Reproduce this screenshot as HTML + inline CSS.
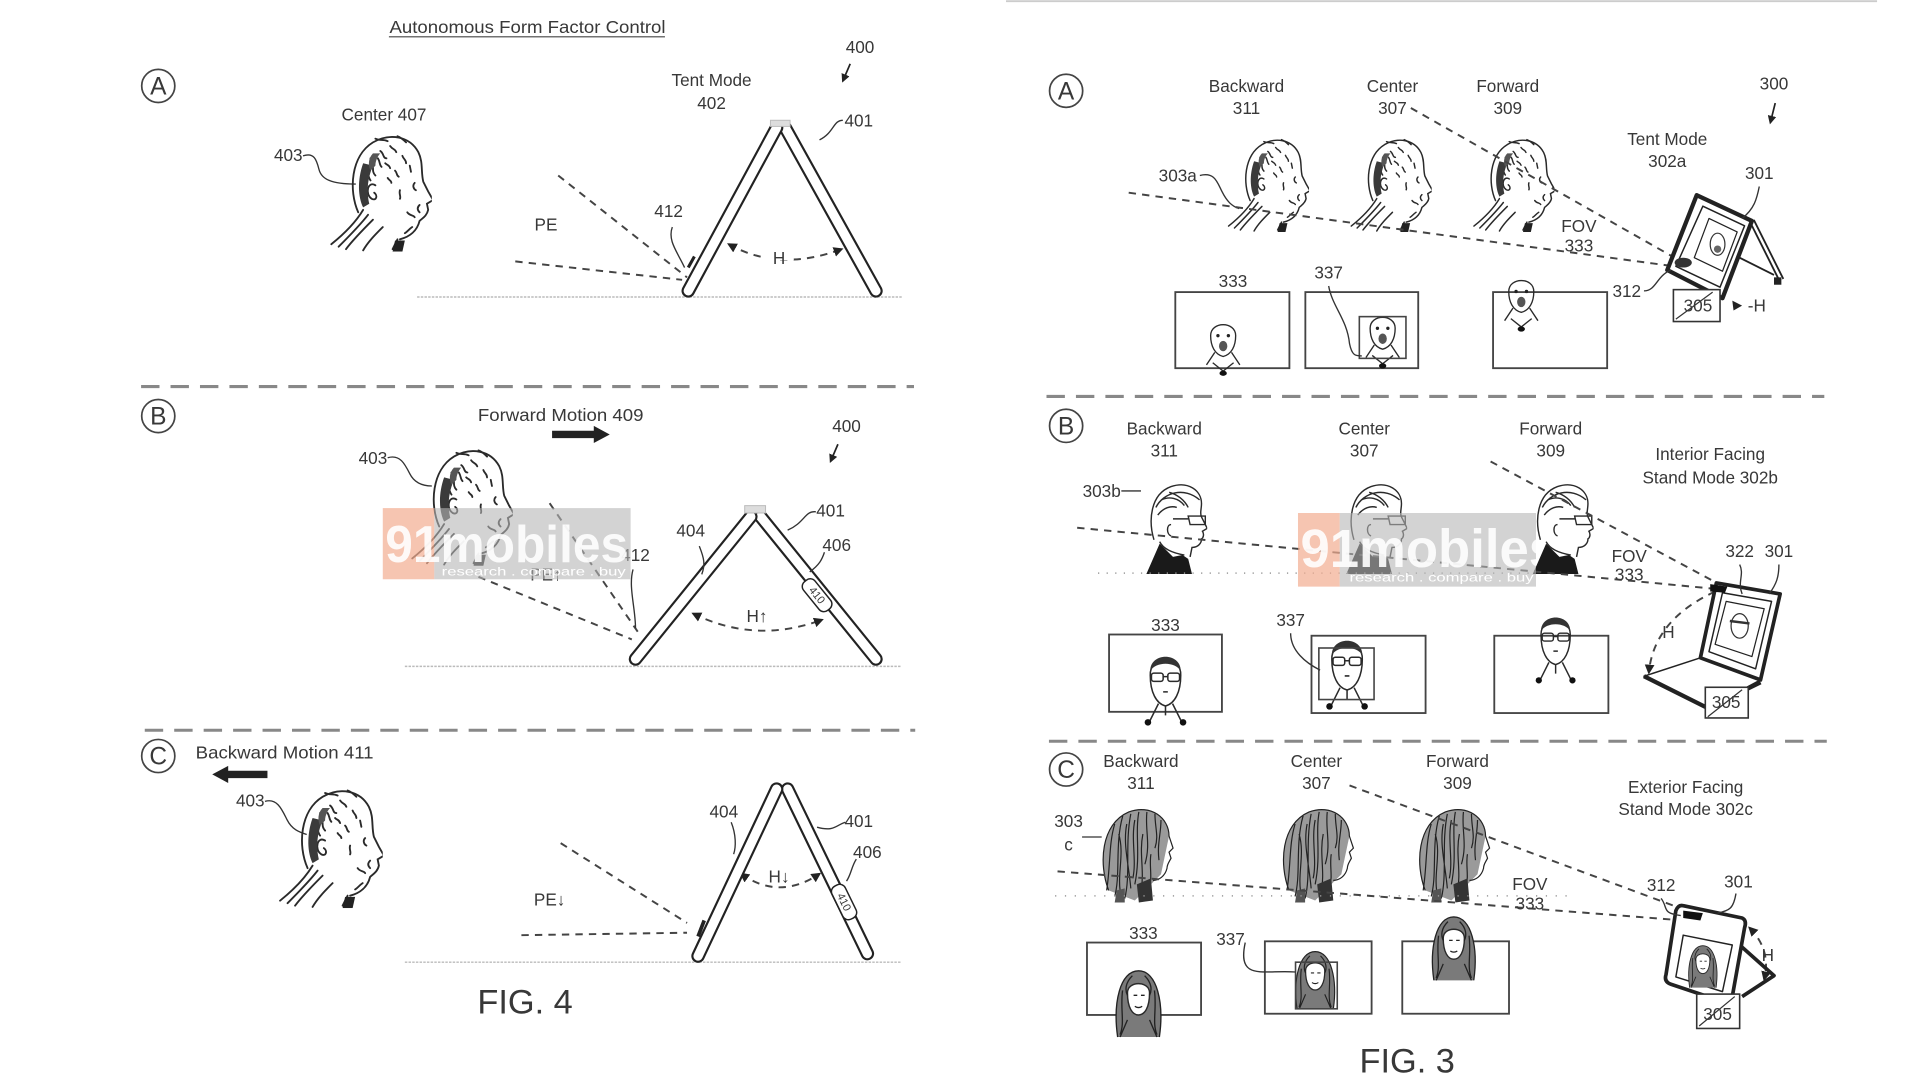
<!DOCTYPE html>
<html><head><meta charset="utf-8"><style>
html,body{margin:0;padding:0;background:#fff;overflow:hidden}
svg{display:block}
text{font-family:"Liberation Sans Narrow","Liberation Sans",Arial,sans-serif;fill:#383838;font-size:14px;text-anchor:middle}
</style></head><body>
<svg width="1920" height="1080" viewBox="0 0 1565 880" preserveAspectRatio="none" xmlns="http://www.w3.org/2000/svg">
<defs>
<marker id="ah" viewBox="0 0 10 10" refX="8" refY="5" markerWidth="5" markerHeight="5" orient="auto-start-reverse"><path d="M0,0 L10,5 L0,10 Z" fill="#222"/></marker>
<symbol id="man" viewBox="0 0 90 100">
<g fill="none" stroke="#2a2a2a" stroke-width="1.5" stroke-linecap="round">
<path d="M30,68 C22,50 24,22 42,11 C56,3 72,6 79,19 C83,27 81,35 83,43 L87,51 L91,58 L86,61 L87,66 C86,71 82,73 80,75 C78,83 72,88 64,90"/>
<path d="M34,66 C28,76 18,86 8,94"/>
<path d="M38,70 C31,79 22,88 14,96"/>
<path d="M42,74 C34,82 26,90 20,98"/>
<path d="M50,80 C44,86 38,92 34,99"/>
<path d="M62,90 L58,98"/>
<path d="M44,46 C38,42 35,53 41,57 C45,59 46,54 43,52"/>
<path d="M36,30 c3,4 1,8 4,12 M40,24 c4,6 0,10 4,14 M34,40 c2,4 0,8 3,10 M48,18 c3,2 2,6 5,6 M56,14 c2,3 4,2 5,5 M52,28 c2,2 3,1 4,4 M66,22 c1,3 3,3 3,6 M72,30 l1,5 M76,44 c-2,2 -1,5 1,6 M80,62 c-2,2 -2,4 0,6 M60,34 c2,2 1,4 3,5 M46,24 c2,3 1,5 3,7 M54,40 c1,2 3,2 3,4 M64,50 c-1,3 1,5 0,7 M70,68 c2,3 5,2 6,4 M74,80 c-3,2 -4,4 -6,5 M44,8 c4,2 6,0 10,2 M62,6 c3,1 5,3 7,5"/>
</g>
<path d="M34,28 C29,42 30,56 34,64 L39,61 C37,52 37,42 42,30 Z" fill="#3a3a3a"/>
<path d="M42,20 C38,24 38,30 40,34 L44,30 C44,26 46,22 48,20 Z" fill="#555"/>
<path d="M60,91 L68,91 L66,100 L58,100 Z" fill="#222"/>
</symbol>
<symbol id="gman" viewBox="0 0 80 100">
<g fill="none" stroke="#2a2a2a" stroke-width="1.5">
<path d="M24,64 C18,44 20,16 42,8 C60,2 74,12 74,26 C74,32 72,36 74,40 L80,52 L75,55 C77,58 76,62 74,63 C74,68 70,72 64,72 L62,82"/>
<path d="M26,30 C34,14 56,8 72,22 M32,22 C40,18 50,20 56,28 M40,14 C48,16 56,22 60,30 M28,38 C34,30 42,28 48,30"/>
<path d="M60,39 L78,39 L78,48 L62,48 Z M44,42 L60,42"/>
<path d="M42,48 c-5,0 -5,10 0,12"/>
<path d="M30,66 C34,74 44,78 56,80"/>
</g>
<path d="M16,100 L30,68 L44,82 L54,80 L60,84 L64,100 Z" fill="#1a1a1a"/>
</symbol>
<symbol id="wman" viewBox="0 0 80 100">
<path d="M14,86 C4,60 6,20 34,8 C56,0 74,14 74,32 L66,70 L40,96 Z" fill="#9a9a9a"/>
<g fill="none" stroke="#222" stroke-width="1.2">
<path d="M14,86 C4,60 6,20 34,8 C56,0 74,14 74,32 L78,44 L74,48 L76,54 C74,58 72,60 72,64 C70,72 64,76 58,76"/>
<path d="M20,20 C14,40 16,60 12,86 M28,12 C20,40 26,70 20,92 M36,10 C30,40 36,70 30,94 M44,8 C40,30 46,50 40,80 M52,8 C50,26 56,40 50,60 M60,10 C60,24 64,32 60,44 M24,30 C30,50 22,70 26,90 M48,30 C44,50 50,66 46,88 M56,50 C54,62 58,72 54,84 M66,16 C66,30 62,40 64,56 M32,20 C28,40 34,60 36,84 M40,16 C36,36 42,56 38,74"/>
</g>
<path d="M42,80 L56,74 L58,96 L44,98 Z" fill="#333"/>
<path d="M22,86 L30,84 L30,98 L20,98 Z" fill="#555"/>
</symbol>
<symbol id="fface" viewBox="0 0 40 60">
<g fill="none" stroke="#2a2a2a" stroke-width="1.3">
<path d="M8,20 C8,6 32,6 32,20 C32,30 28,38 20,40 C12,38 8,30 8,20 Z"/>
<path d="M12,36 L4,48 M28,36 L36,48 M10,46 L20,54 L30,46"/>
</g>
<circle cx="15" cy="20" r="1.6" fill="#222"/><circle cx="25" cy="20" r="1.6" fill="#222"/>
<ellipse cx="20" cy="30" rx="4" ry="5" fill="#555"/>
<ellipse cx="20" cy="56" rx="3.5" ry="2.5" fill="#111"/>
</symbol>
<symbol id="gface" viewBox="0 0 44 70">
<g fill="none" stroke="#2a2a2a" stroke-width="1.3">
<path d="M9,26 C8,8 36,8 35,26 C35,40 30,50 22,52 C14,50 9,40 9,26 Z"/>
<rect x="10" y="24" width="10" height="7" rx="2"/><rect x="24" y="24" width="10" height="7" rx="2"/>
<path d="M20,27 L24,27 M20,40 L24,40 M16,50 L8,66 M28,50 L36,66 M22,52 L22,60"/>
</g>
<path d="M9,22 C9,6 35,6 35,22 C30,14 14,14 9,22 Z" fill="#333"/>
<circle cx="7" cy="66" r="2.8" fill="#111"/><circle cx="37" cy="66" r="2.8" fill="#111"/>
</symbol>
<symbol id="wface" viewBox="0 0 46 60">
<path d="M6,58 C2,30 8,4 23,4 C38,4 44,30 40,58 Z" fill="#7a7a7a"/>
<path d="M14,22 C14,12 32,12 32,22 C32,34 28,40 23,40 C18,40 14,34 14,22 Z" fill="#fff" stroke="#2a2a2a" stroke-width="1.2"/>
<g fill="none" stroke="#222" stroke-width="1.1">
<path d="M6,58 C2,30 8,4 23,4 C38,4 44,30 40,58 M10,20 C8,36 12,46 8,56 M36,20 C38,36 34,46 38,56 M18,8 C12,14 12,20 14,24 M28,8 C34,14 34,20 32,24 M14,44 L8,58 M32,44 L38,58"/>
<path d="M19,24 h3 M25,24 h3 M20,33 q3,2 6,0"/>
</g>
</symbol>
<clipPath id="wm2c"><rect x="1058" y="418" width="194" height="60"/></clipPath>
</defs>

<rect x="0" y="0" width="1565" height="880" fill="#fff"/>
<line x1="820" y1="1" x2="1530" y2="1" stroke="#ccc" stroke-width="1.5"/>

<!-- ============ FIG 4 (left) ============ -->
<text x="430" y="27" textLength="225" lengthAdjust="spacingAndGlyphs">Autonomous Form Factor Control</text>
<line x1="317" y1="30" x2="542" y2="30" stroke="#444" stroke-width="1"/>

<!-- Panel A -->
<circle cx="129" cy="70" r="13.5" fill="none" stroke="#444" stroke-width="1.4"/>
<text x="129" y="77" style="font-size:20px">A</text>
<text x="701" y="43">400</text>
<path d="M693,52 L687,66" stroke="#222" stroke-width="1.4" marker-end="url(#ah)"/>
<text x="580" y="70">Tent Mode</text><text x="580" y="89">402</text>
<text x="313" y="98">Center 407</text>
<text x="235" y="131">403</text>
<path d="M247,127 C256,124 258,130 260,138 C262,146 270,150 290,150" fill="none" stroke="#333" stroke-width="1.1"/>
<use href="#man" x="262" y="105" width="90" height="100"/>
<text x="700" y="103">401</text>
<path d="M687,98 C679,98 680,108 668,114" fill="none" stroke="#333" stroke-width="1.1"/>
<text x="545" y="177">412</text>
<path d="M548,185 C544,196 552,205 558,218" fill="none" stroke="#333" stroke-width="1.1"/>
<text x="445" y="188">PE</text>
<g stroke="#444" stroke-width="1.6" stroke-dasharray="6,5" fill="none">
<line x1="455" y1="143" x2="560" y2="226"/>
<line x1="420" y1="213" x2="556" y2="228"/>
<path d="M594,199 Q635,222 686,203" marker-start="url(#ah)" marker-end="url(#ah)"/>
</g>
<rect x="623" y="192" width="24" height="20" fill="#fff"/>
<text x="635" y="215">H</text>
<line x1="340" y1="242" x2="735" y2="242" stroke="#bbb" stroke-width="1.2" stroke-dasharray="2,1"/>
<g stroke-linecap="round">
<line x1="640" y1="104" x2="714" y2="237" stroke="#222" stroke-width="11"/>
<line x1="640" y1="104" x2="714" y2="237" stroke="#fff" stroke-width="7.5"/>
<line x1="633" y1="104" x2="561" y2="237" stroke="#222" stroke-width="11"/>
<line x1="633" y1="104" x2="561" y2="237" stroke="#fff" stroke-width="7.5"/>
</g>
<rect x="628" y="98" width="16" height="5" fill="#ddd" stroke="#bbb" stroke-width="0.8"/>
<line x1="561" y1="218" x2="566" y2="209" stroke="#222" stroke-width="2.5"/>

<line x1="115" y1="315" x2="745" y2="315" stroke="#888" stroke-width="2.5" stroke-dasharray="15,9"/>

<!-- Panel B -->
<circle cx="129" cy="339" r="13.5" fill="none" stroke="#444" stroke-width="1.4"/>
<text x="129" y="346" style="font-size:20px">B</text>
<text x="457" y="343" textLength="135" lengthAdjust="spacingAndGlyphs">Forward Motion 409</text>
<path d="M450,351 L484,351 L484,347 L497,354 L484,361 L484,357 L450,357 Z" fill="#222"/>
<text x="690" y="352">400</text>
<path d="M683,362 L677,376" stroke="#222" stroke-width="1.4" marker-end="url(#ah)"/>
<text x="304" y="378">403</text>
<path d="M316,373 C326,370 330,378 334,386 C338,394 345,396 352,396" fill="none" stroke="#333" stroke-width="1.1"/>
<use href="#man" x="328" y="360" width="90" height="102"/>
<g stroke="#444" stroke-width="1.6" stroke-dasharray="6,5" fill="none">
<line x1="448" y1="410" x2="520" y2="515"/>
<line x1="390" y1="470" x2="515" y2="521"/>
<path d="M565,500 Q616,525 670,505" marker-start="url(#ah)" marker-end="url(#ah)"/>
</g>
<rect x="604" y="492" width="26" height="18" fill="#fff"/>
<text x="617" y="507">H↑</text>
<text x="445" y="473">PE↑</text>
<line x1="330" y1="543" x2="735" y2="543" stroke="#bbb" stroke-width="1.2" stroke-dasharray="2,1"/>
<g stroke-linecap="round">
<line x1="620" y1="421" x2="714" y2="537" stroke="#222" stroke-width="11"/>
<line x1="620" y1="421" x2="714" y2="537" stroke="#fff" stroke-width="7.5"/>
<line x1="612" y1="421" x2="518" y2="537" stroke="#222" stroke-width="11"/>
<line x1="612" y1="421" x2="518" y2="537" stroke="#fff" stroke-width="7.5"/>
</g>
<rect x="607" y="412" width="17" height="6" fill="#ddd" stroke="#bbb" stroke-width="0.8"/>
<g transform="translate(666,485) rotate(-39)">
<rect x="-6" y="-15" width="12" height="30" rx="5" fill="#fff" stroke="#222" stroke-width="1.2"/>
<text x="0" y="3" transform="rotate(90)" style="font-size:9px">410</text>
</g>
<text x="563" y="437">404</text>
<path d="M570,445 C574,455 575,460 572,468" fill="none" stroke="#333" stroke-width="1.1"/>
<text x="677" y="421">401</text>
<path d="M665,417 C656,416 656,426 642,432" fill="none" stroke="#333" stroke-width="1.1"/>
<text x="682" y="449">406</text>
<path d="M672,450 C670,456 668,460 660,466" fill="none" stroke="#333" stroke-width="1.1"/>
<text x="518" y="457">412</text>
<path d="M516,464 C512,478 518,495 518,512" fill="none" stroke="#333" stroke-width="1.1"/>
<!-- watermark 1 -->
<rect x="312" y="414" width="42" height="58" fill="#f2ad90" opacity="0.7"/>
<rect x="354" y="414" width="160" height="58" fill="#b5b5b5" opacity="0.6"/>
<text x="314" y="458" textLength="198" lengthAdjust="spacingAndGlyphs" style="font-size:42px;font-weight:bold;fill:#fff;opacity:0.9;text-anchor:start">91mobiles</text>
<text x="360" y="469" textLength="150" lengthAdjust="spacingAndGlyphs" style="font-size:10px;fill:#fff;text-anchor:start">research . compare . buy</text>

<line x1="118" y1="595" x2="746" y2="595" stroke="#888" stroke-width="2.5" stroke-dasharray="15,9"/>

<!-- Panel C -->
<circle cx="129" cy="616" r="13.5" fill="none" stroke="#444" stroke-width="1.4"/>
<text x="129" y="623" style="font-size:20px">C</text>
<text x="232" y="618" textLength="145" lengthAdjust="spacingAndGlyphs">Backward Motion 411</text>
<path d="M218,628 L186,628 L186,624 L173,631 L186,638 L186,634 L218,634 Z" fill="#222"/>
<text x="204" y="657">403</text>
<path d="M216,653 C226,650 230,660 234,668 C238,676 244,678 250,680" fill="none" stroke="#333" stroke-width="1.1"/>
<use href="#man" x="220" y="638" width="92" height="102"/>
<g stroke="#444" stroke-width="1.6" stroke-dasharray="6,5" fill="none">
<line x1="457" y1="687" x2="560" y2="752"/>
<line x1="425" y1="762" x2="560" y2="760"/>
<path d="M604,712 Q635,734 668,712" marker-start="url(#ah)" marker-end="url(#ah)"/>
</g>
<text x="448" y="738">PE↓</text>
<text x="635" y="719">H↓</text>
<line x1="330" y1="784" x2="735" y2="784" stroke="#bbb" stroke-width="1.2" stroke-dasharray="2,1"/>
<g stroke-linecap="round">
<line x1="642" y1="643" x2="707" y2="777" stroke="#222" stroke-width="11"/>
<line x1="642" y1="643" x2="707" y2="777" stroke="#fff" stroke-width="7.5"/>
<line x1="633" y1="643" x2="569" y2="779" stroke="#222" stroke-width="11"/>
<line x1="633" y1="643" x2="569" y2="779" stroke="#fff" stroke-width="7.5"/>
</g>
<line x1="569" y1="763" x2="574" y2="750" stroke="#222" stroke-width="3"/>
<g transform="translate(688,735) rotate(-26)">
<rect x="-6" y="-15" width="12" height="30" rx="5" fill="#fff" stroke="#222" stroke-width="1.2"/>
<text x="0" y="3" transform="rotate(90)" style="font-size:9px">410</text>
</g>
<text x="590" y="666">404</text>
<path d="M596,670 C600,680 600,690 598,696" fill="none" stroke="#333" stroke-width="1.1"/>
<text x="700" y="674">401</text>
<path d="M689,670 C682,672 680,678 666,674" fill="none" stroke="#333" stroke-width="1.1"/>
<text x="707" y="699">406</text>
<path d="M698,700 C694,706 694,712 690,718" fill="none" stroke="#333" stroke-width="1.1"/>
<text x="428" y="826" style="font-size:28px">FIG. 4</text>

<!-- ============ FIG 3 (right) ============ -->
<!-- Panel A -->
<circle cx="869" cy="74" r="13.5" fill="none" stroke="#444" stroke-width="1.4"/>
<text x="869" y="81" style="font-size:20px">A</text>
<text x="1016" y="75">Backward</text><text x="1016" y="93">311</text>
<text x="1135" y="75">Center</text><text x="1135" y="93">307</text>
<text x="1229" y="75">Forward</text><text x="1229" y="93">309</text>
<text x="1446" y="73">300</text>
<path d="M1447,84 L1443,100" stroke="#222" stroke-width="1.4" marker-end="url(#ah)"/>
<text x="1359" y="118">Tent Mode</text><text x="1359" y="136">302a</text>
<text x="960" y="148">303a</text>
<path d="M978,143 C990,140 992,148 996,156 C1000,164 1004,168 1010,170" fill="none" stroke="#333" stroke-width="1.1"/>
<use href="#man" x="995" y="108" width="72" height="82"/>
<use href="#man" x="1095" y="108" width="72" height="82"/>
<use href="#man" x="1195" y="108" width="72" height="82"/>
<g stroke="#444" stroke-width="1.6" stroke-dasharray="6,5" fill="none">
<line x1="920" y1="157" x2="1372" y2="218"/>
<line x1="1150" y1="88" x2="1372" y2="214"/>
</g>
<text x="1287" y="189">FOV</text><text x="1287" y="205">333</text>
<!-- device A -->
<g stroke="#222" fill="none" stroke-linejoin="round">
<path d="M1428,180 L1452,228" stroke-width="5"/>
<path d="M1428,180 L1452,228" stroke="#fff" stroke-width="2"/>
<path d="M1410,206 L1446,224" stroke-width="1.5"/>
<path d="M1383,159 L1428,180 L1404,243 L1359,220 Z" fill="#fff" stroke-width="3.5"/>
<path d="M1388,168 L1422,184 L1402,234 L1366,217 Z" stroke-width="1.2"/>
<path d="M1393,178 L1416,189 L1404,221 L1381,210 Z" stroke-width="1"/>
</g>
<ellipse cx="1400" cy="199" rx="6" ry="9" fill="none" stroke="#333" stroke-width="1"/>
<circle cx="1400" cy="203" r="3" fill="#666"/>
<ellipse cx="1372" cy="214" rx="7" ry="4" fill="#333"/>
<rect x="1446" y="226" width="6" height="6" fill="#222"/>
<text x="1434" y="146">301</text>
<path d="M1434,152 C1432,162 1430,170 1420,178" fill="none" stroke="#333" stroke-width="1.1"/>
<text x="1326" y="242">312</text>
<path d="M1340,237 C1350,237 1350,225 1362,220" fill="none" stroke="#333" stroke-width="1.1"/>
<rect x="1364" y="236" width="38" height="26" fill="#fff" stroke="#333" stroke-width="1.3"/>
<line x1="1366" y1="260" x2="1396" y2="238" stroke="#333" stroke-width="1"/>
<text x="1384" y="254">305</text>
<path d="M1412,245 L1420,249 L1413,253 Z" fill="#222"/>
<text x="1432" y="254">-H</text>
<!-- boxes A -->
<rect x="958" y="238" width="93" height="62" fill="none" stroke="#444" stroke-width="1.5"/>
<use href="#fface" x="980" y="254" width="34" height="56"/>
<text x="1005" y="234">333</text>
<rect x="1064" y="238" width="92" height="62" fill="none" stroke="#444" stroke-width="1.5"/>
<use href="#fface" x="1110" y="250" width="34" height="52"/>
<rect x="1108" y="258" width="38" height="34" fill="none" stroke="#444" stroke-width="1.3"/>
<text x="1083" y="227">337</text>
<path d="M1083,233 C1086,250 1098,260 1100,280 C1102,290 1105,290 1110,290" fill="none" stroke="#333" stroke-width="1.1"/>
<rect x="1217" y="238" width="93" height="62" fill="none" stroke="#444" stroke-width="1.5"/>
<use href="#fface" x="1223" y="220" width="34" height="52"/>

<line x1="853" y1="323" x2="1487" y2="323" stroke="#888" stroke-width="2.5" stroke-dasharray="15,9"/>

<!-- Panel B -->
<circle cx="869" cy="347" r="13.5" fill="none" stroke="#444" stroke-width="1.4"/>
<text x="869" y="354" style="font-size:20px">B</text>
<text x="949" y="354">Backward</text><text x="949" y="372">311</text>
<text x="1112" y="354">Center</text><text x="1112" y="372">307</text>
<text x="1264" y="354">Forward</text><text x="1264" y="372">309</text>
<text x="1394" y="375">Interior Facing</text><text x="1394" y="394">Stand Mode 302b</text>
<text x="898" y="405">303b</text>
<line x1="914" y1="400" x2="930" y2="400" stroke="#333" stroke-width="1.1"/>
<use href="#gman" x="922" y="390" width="62" height="78"/>
<use href="#gman" x="1085" y="390" width="62" height="78"/>
<use href="#gman" x="1237" y="390" width="62" height="78"/>
<line x1="895" y1="467" x2="1250" y2="467" stroke="#999" stroke-width="1.2" stroke-dasharray="1,6"/>
<g stroke="#444" stroke-width="1.6" stroke-dasharray="6,5" fill="none">
<line x1="878" y1="430" x2="1400" y2="480"/>
<line x1="1215" y1="376" x2="1405" y2="478"/>
<path d="M1398,482 Q1348,505 1344,548" marker-end="url(#ah)"/>
</g>
<text x="1328" y="458">FOV</text><text x="1328" y="473">333</text>
<text x="1360" y="520">H</text>
<!-- device B -->
<g stroke="#222" fill="none" stroke-linejoin="round">
<path d="M1340,551 L1386,536 L1435,554 L1392,577 Z" fill="#fff" stroke-width="1.2"/>
<path d="M1340,551 L1392,577 L1435,556" stroke-width="3.5"/>
<path d="M1399,475 L1451,484 L1435,554 L1386,536 Z" fill="#fff" stroke-width="3"/>
<path d="M1404,483 L1444,490 L1431,545 L1393,531 Z" stroke-width="1.2"/>
<path d="M1407,490 L1438,496 L1428,535 L1398,525 Z" stroke-width="1"/>
</g>
<ellipse cx="1418" cy="510" rx="7" ry="10" fill="none" stroke="#333" stroke-width="1"/>
<path d="M1410,506 L1426,508" stroke="#333" stroke-width="2"/>
<path d="M1394,476 L1408,478 L1406,483 L1394,482 Z" fill="#111"/>
<text x="1418" y="454">322</text><text x="1450" y="454">301</text>
<path d="M1418,460 C1422,468 1416,474 1420,484" fill="none" stroke="#333" stroke-width="1.1"/>
<path d="M1450,460 C1450,470 1448,476 1442,484" fill="none" stroke="#333" stroke-width="1.1"/>
<rect x="1390" y="560" width="35" height="25" fill="#fff" stroke="#333" stroke-width="1.3"/>
<line x1="1392" y1="584" x2="1420" y2="562" stroke="#333" stroke-width="1"/>
<text x="1407" y="577">305</text>
<!-- boxes B -->
<rect x="904" y="517" width="92" height="63" fill="none" stroke="#444" stroke-width="1.5"/>
<use href="#gface" x="929" y="525" width="42" height="68"/>
<text x="950" y="514">333</text>
<rect x="1069" y="518" width="93" height="63" fill="none" stroke="#444" stroke-width="1.5"/>
<use href="#gface" x="1077" y="512" width="42" height="68"/>
<rect x="1075" y="528" width="45" height="42" fill="none" stroke="#444" stroke-width="1.3"/>
<text x="1052" y="510">337</text>
<path d="M1052,516 C1052,530 1064,540 1076,546" fill="none" stroke="#333" stroke-width="1.1"/>
<rect x="1218" y="518" width="93" height="63" fill="none" stroke="#444" stroke-width="1.5"/>
<use href="#gface" x="1246" y="494" width="44" height="64"/>
<!-- watermark 2 -->
<rect x="1058" y="418" width="34" height="60" fill="#f2ad90" opacity="0.7"/>
<rect x="1092" y="418" width="160" height="60" fill="#b5b5b5" opacity="0.6"/>
<g clip-path="url(#wm2c)">
<text x="1060" y="462" textLength="210" lengthAdjust="spacingAndGlyphs" style="font-size:44px;font-weight:bold;fill:#fff;opacity:0.9;text-anchor:start">91mobiles</text>
<text x="1100" y="474" textLength="150" lengthAdjust="spacingAndGlyphs" style="font-size:10px;fill:#fff;text-anchor:start">research . compare . buy</text>
</g>

<line x1="855" y1="604" x2="1489" y2="604" stroke="#888" stroke-width="2.5" stroke-dasharray="15,9"/>

<!-- Panel C -->
<circle cx="869" cy="627" r="13.5" fill="none" stroke="#444" stroke-width="1.4"/>
<text x="869" y="634" style="font-size:20px">C</text>
<text x="930" y="625">Backward</text><text x="930" y="643">311</text>
<text x="1073" y="625">Center</text><text x="1073" y="643">307</text>
<text x="1188" y="625">Forward</text><text x="1188" y="643">309</text>
<text x="1374" y="646">Exterior Facing</text><text x="1374" y="664">Stand Mode 302c</text>
<text x="871" y="674">303</text><text x="871" y="693">c</text>
<line x1="882" y1="682" x2="898" y2="682" stroke="#333" stroke-width="1.1"/>
<use href="#wman" x="890" y="655" width="70" height="82"/>
<use href="#wman" x="1037" y="655" width="70" height="82"/>
<use href="#wman" x="1148" y="655" width="70" height="82"/>
<line x1="860" y1="730" x2="1280" y2="730" stroke="#999" stroke-width="1.2" stroke-dasharray="1,7"/>
<g stroke="#444" stroke-width="1.6" stroke-dasharray="6,5" fill="none">
<line x1="862" y1="710" x2="1372" y2="750"/>
<line x1="1100" y1="640" x2="1375" y2="742"/>
<path d="M1426,756 Q1444,774 1438,798" marker-start="url(#ah)" marker-end="url(#ah)"/>
</g>
<text x="1247" y="725">FOV</text><text x="1247" y="741">333</text>
<text x="1441" y="783">H</text>
<!-- device C -->
<g stroke="#222" fill="none" stroke-linejoin="round">
<path d="M1418,770 L1446,795 L1420,812" stroke-width="3"/>
<path d="M1372,738 L1420,748 Q1424,750 1422,756 L1412,812 Q1410,818 1404,816 L1362,802 Q1356,800 1358,794 L1366,742 Q1368,737 1372,738 Z" fill="#fff" stroke-width="3"/>
<path d="M1372,762 L1412,770 L1404,808 L1366,796 Z" stroke-width="1.2"/>
</g>
<use href="#wface" x="1372" y="768" width="32" height="38"/>
<path d="M1372,742 L1388,744 L1386,750 L1372,748 Z" fill="#111"/>
<text x="1354" y="726">312</text><text x="1417" y="723">301</text>
<path d="M1354,732 C1360,740 1354,744 1370,746" fill="none" stroke="#333" stroke-width="1.1"/>
<path d="M1415,728 C1413,740 1410,742 1400,744" fill="none" stroke="#333" stroke-width="1.1"/>
<rect x="1383" y="810" width="35" height="28" fill="#fff" stroke="#333" stroke-width="1.3"/>
<line x1="1385" y1="836" x2="1414" y2="812" stroke="#333" stroke-width="1"/>
<text x="1400" y="831">305</text>
<!-- boxes C -->
<rect x="886" y="768" width="93" height="59" fill="none" stroke="#444" stroke-width="1.5"/>
<use href="#wface" x="905" y="787" width="46" height="60"/>
<text x="932" y="765">333</text>
<rect x="1031" y="767" width="87" height="59" fill="none" stroke="#444" stroke-width="1.5"/>
<use href="#wface" x="1052" y="770" width="40" height="56"/>
<rect x="1056" y="784" width="34" height="38" fill="none" stroke="#444" stroke-width="1.3"/>
<text x="1003" y="770">337</text>
<path d="M1015,768 C1008,800 1030,790 1056,792" fill="none" stroke="#333" stroke-width="1.1"/>
<rect x="1143" y="767" width="87" height="59" fill="none" stroke="#444" stroke-width="1.5"/>
<use href="#wface" x="1163" y="743" width="44" height="58"/>
<text x="1147" y="874" style="font-size:28px">FIG. 3</text>
</svg>
</body></html>
